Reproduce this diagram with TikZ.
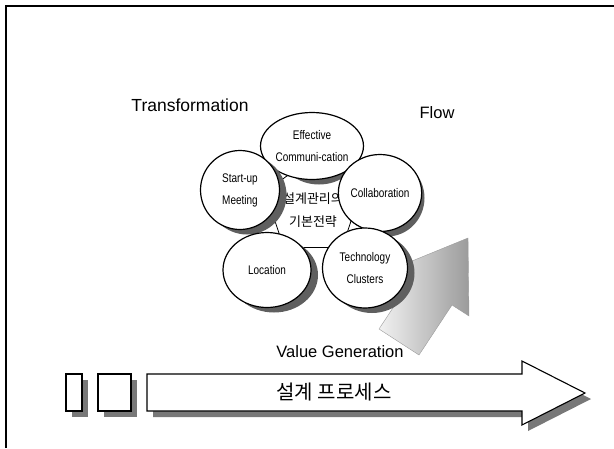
\documentclass[tikz,border=0pt]{standalone}
\usepackage{fontspec}
\setmainfont{Liberation Sans}
\newfontfamily\narrowfont[FakeStretch=0.8]{Liberation Sans}
\newfontfamily\kofont{Noto Sans CJK KR}
\usetikzlibrary{shapes.geometric}
\definecolor{shadowgray}{RGB}{95,95,95}
\definecolor{boxshadow}{RGB}{120,120,120}
\definecolor{flowdark}{RGB}{155,155,155}
\definecolor{flowlight}{RGB}{242,242,242}

\begin{document}
\begin{tikzpicture}[x=1pt,y=-1pt,
  bubble/.style={ellipse, draw, line width=1.2pt, fill=white, inner sep=0pt,
    align=center, font=\narrowfont\fontsize{12.5}{22}\selectfont},
  bubbleshadow/.style={ellipse, fill=shadowgray, draw=none, inner sep=0pt},
  core/.style={regular polygon, regular polygon sides=5, minimum size=100pt,
    draw, line width=0.8pt, fill=white, inner sep=0pt},
  heading/.style={font=\fontsize{16.5}{18}\selectfont, inner sep=0pt},
  shadowfill/.style={fill=boxshadow, draw=none},
  block/.style={fill=white, draw, line width=1.1pt},
  flowarrow/.style={left color=flowlight, right color=flowdark, draw=flowdark, line width=0.4pt}
]
\useasboundingbox (0,0) rectangle (614,448);

% frame
\draw[line width=1.2pt] (6,448) -- (6,6) -- (614,6);

% headings
\node[heading, font=\fontsize{17.5}{18}\selectfont] (transformation) at (190,105) {Transformation};
\node[heading] (flow) at (437,113) {Flow};
\node[heading] (value) at (340,352) {Value Generation};

% shaded flow arrow behind the bubbles
\shade[flowarrow] (468,238) -- (469,316) -- (452,305) -- (419,355)
  -- (379,329) -- (412,279) -- (395,268) -- cycle;

% central pentagon with the core strategy
\node[core] (core) at (313,207) {};
\node[font=\kofont\fontsize{13}{23}\selectfont, align=center, inner sep=0pt]
  (corelabel) at (313,210) {설계관리의\\기본전략};

% bubbles around the core, each over its own shadow
\node[bubbleshadow, minimum width=80pt, minimum height=67pt] (commshadow) at (319,151) {};
\node[bubble, minimum width=80pt, minimum height=67pt] (comm) at (312,146)
  {Effective\\Communi-cation};
\node[bubbleshadow, minimum width=79pt, minimum height=79pt] (startupshadow) at (247,195) {};
\node[bubble, minimum width=79pt, minimum height=79pt] (startup) at (240,190)
  {Start-up\\Meeting};
\node[bubbleshadow, minimum width=75pt, minimum height=77pt] (collabshadow) at (387,198) {};
\node[bubble, minimum width=75pt, minimum height=77pt] (collab) at (380,193)
  {Collaboration};
\node[bubbleshadow, minimum width=88pt, minimum height=75pt] (locationshadow) at (274,275) {};
\node[bubble, minimum width=88pt, minimum height=75pt] (location) at (267,270)
  {Location};
\node[bubbleshadow, minimum width=85pt, minimum height=80pt] (techshadow) at (372,273) {};
\node[bubble, minimum width=85pt, minimum height=80pt] (tech) at (365,268)
  {Technology\\Clusters};

% process arrow with its shadow
\fill[shadowfill] (153,380) -- (528,380) -- (528,367) -- (591,399)
  -- (528,431) -- (528,417) -- (153,417) -- cycle;
\draw[block] (147,374) -- (522,374) -- (522,361) -- (585,393)
  -- (522,425) -- (522,411) -- (147,411) -- cycle;
\node[font=\kofont\fontsize{20}{22}\selectfont, inner sep=0pt] (process) at (334,392)
  {설계 프로세스};

% small leading boxes
\fill[shadowfill] (72,380) rectangle (88,417);
\draw[block] (66,374) rectangle (82,411);
\coordinate (boxa) at (74,392);
\fill[shadowfill] (104,380) rectangle (137,417);
\draw[block] (98,374) rectangle (131,411);
\coordinate (boxb) at (114,392);
\end{tikzpicture}
\end{document}
